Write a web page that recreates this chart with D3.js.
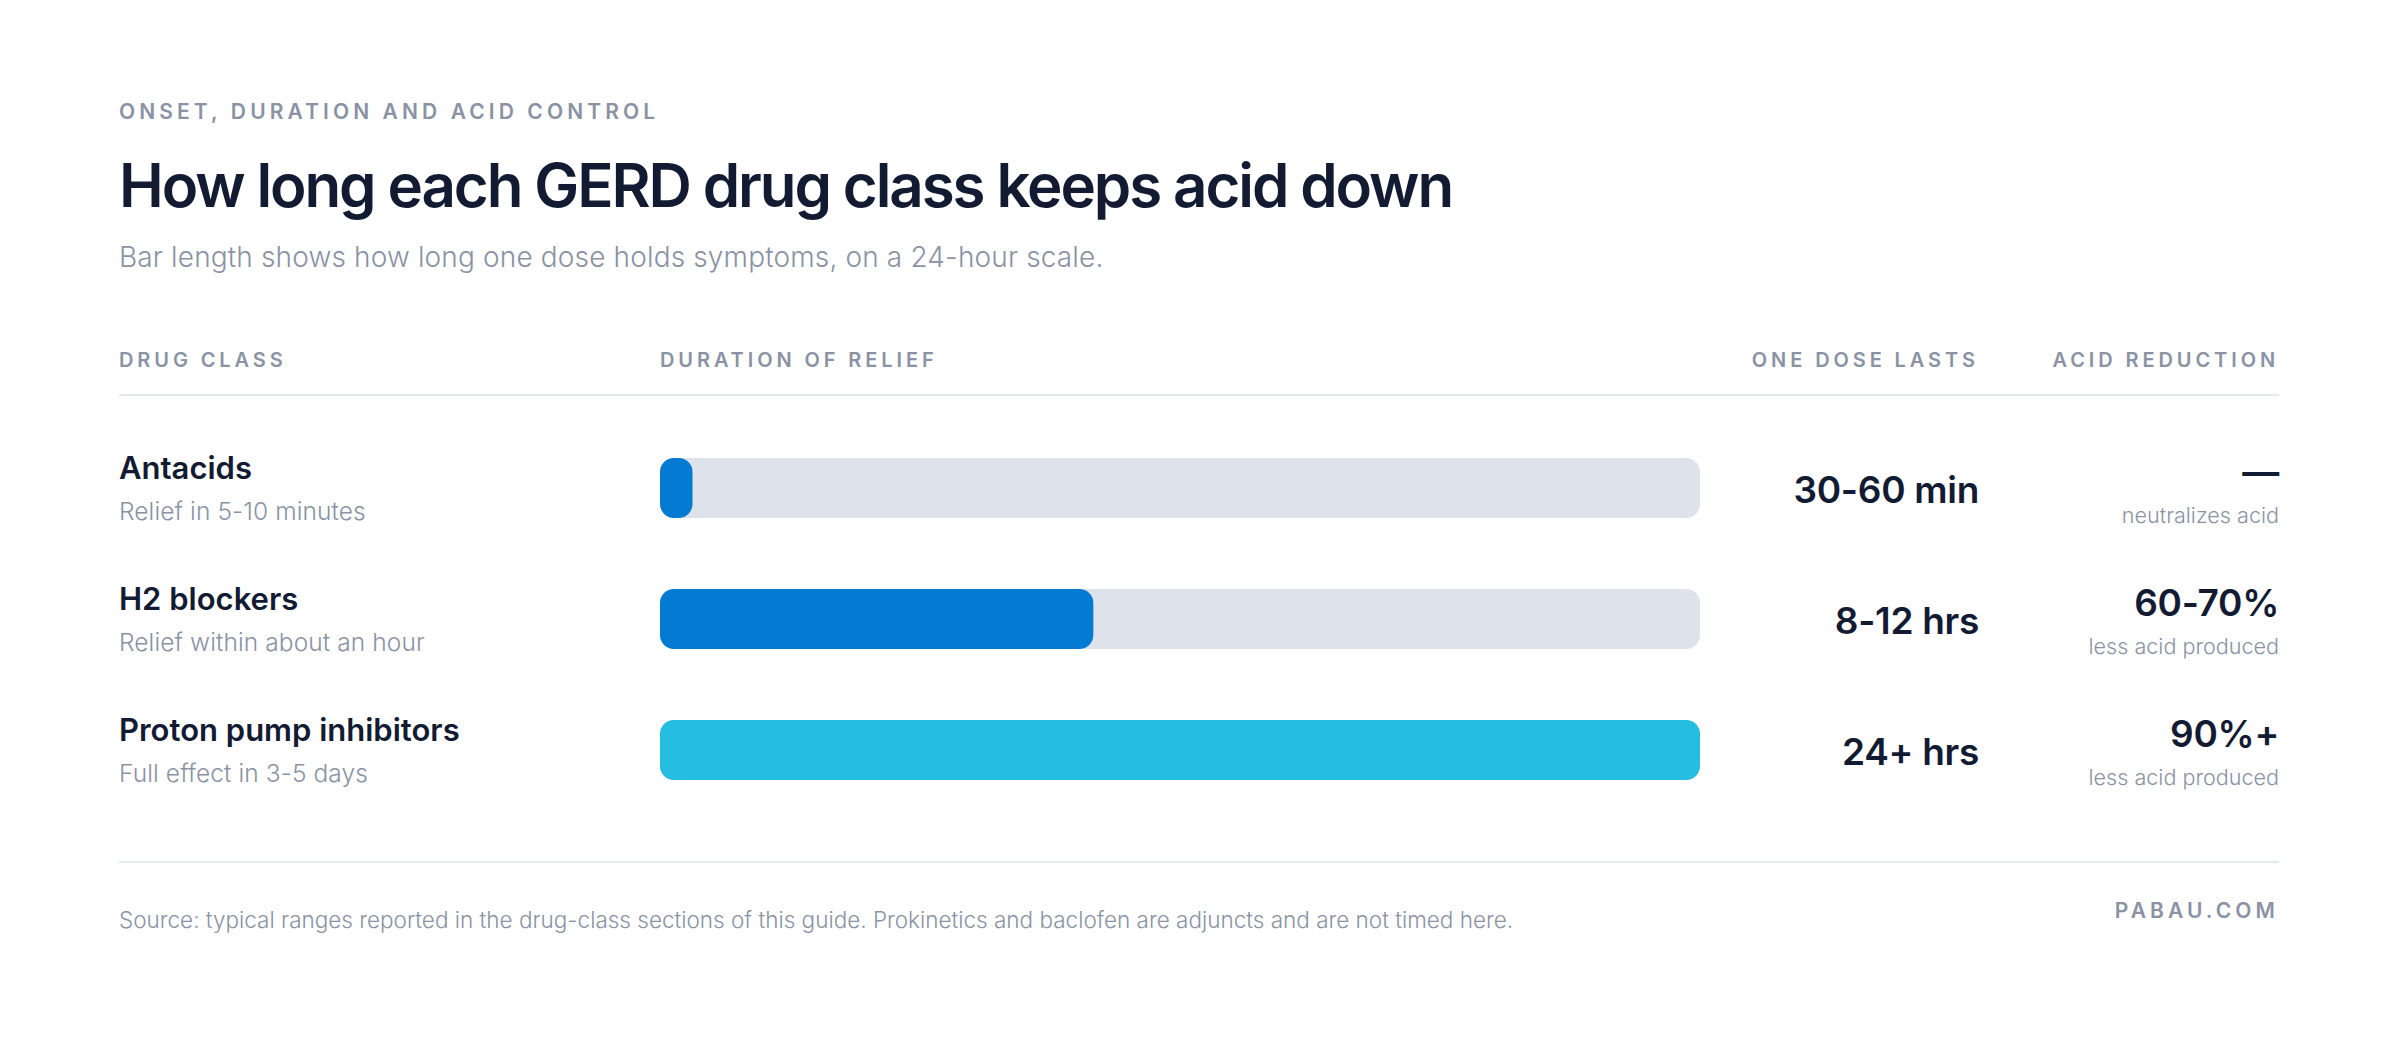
<!DOCTYPE html>
<html>
<head>
<meta charset="utf-8">
<script src="https://cdn.jsdelivr.net/npm/d3@7"></script>
<style>
  body { margin: 0; background: #fff; }
  svg { display: block; font-family: Inter, "Noto Sans", sans-serif; }
</style>
</head>
<body>
<div class="chart"></div>
<script>
const drugClasses = ['Antacids', 'H2 blockers', 'Proton pump inhibitors'];
const onsetNotes = ['Relief in 5-10 minutes', 'Relief within about an hour', 'Full effect in 3-5 days'];
const durationHours = [0.75, 10, 24];
const durationLabels = ['30-60 min', '8-12 hrs', '24+ hrs'];
const acidReduction = ['—', '60-70%', '90%+'];
const acidNotes = ['neutralizes acid', 'less acid produced', 'less acid produced'];
const scaleMax = 24;
const columnHeaders = ['DRUG CLASS', 'DURATION OF RELIEF', 'ONE DOSE LASTS', 'ACID REDUCTION'];

const createChart = () => {
  const { d3 } = window;
  const width = 2400;
  const height = 1050;
  const left = 119;
  const right = 2279;
  const navy = '#131b33';
  const grey = '#8a92a4';

  const rows = drugClasses.map((name, i) => ({
    name,
    onset: onsetNotes[i],
    hours: durationHours[i],
    lasts: durationLabels[i],
    acid: acidReduction[i],
    acidNote: acidNotes[i],
  }));

  const svg = d3.select('.chart')
    .append('svg')
    .attr('width', width)
    .attr('height', height);

  const x = d3.scaleLinear()
    .domain([0, scaleMax])
    .range([660, 1700]);

  const y = d3.scalePoint()
    .domain(drugClasses)
    .range([488, 750]);

  const color = d3.scaleOrdinal()
    .domain(drugClasses)
    .range(['#047bd2', '#047bd2', '#25bde0']);

  /* heading */

  svg.append('text')
    .attr('x', left)
    .attr('y', 119)
    .attr('fill', grey)
    .attr('font-size', 21)
    .attr('font-weight', 600)
    .attr('letter-spacing', 4.1)
    .text('ONSET, DURATION AND ACID CONTROL');

  svg.append('text')
    .attr('x', left)
    .attr('y', 207)
    .attr('fill', navy)
    .attr('font-size', 60)
    .attr('font-weight', 600)
    .attr('letter-spacing', -2.1)
    .text('How long each GERD drug class keeps acid down');

  svg.append('text')
    .attr('x', left)
    .attr('y', 267)
    .attr('fill', grey)
    .attr('font-size', 28)
    .attr('font-weight', 300)
    .attr('letter-spacing', 0.15)
    .text('Bar length shows how long one dose holds symptoms, on a 24-hour scale.');

  /* column headers */

  const headerX = [left, x(0), 1979, right];
  const headerAnchor = ['start', 'start', 'end', 'end'];

  svg.append('g')
    .selectAll('text')
    .data(columnHeaders)
    .enter().append('text')
    .attr('x', (d, i) => headerX[i])
    .attr('y', 367)
    .attr('text-anchor', (d, i) => headerAnchor[i])
    .attr('fill', grey)
    .attr('font-size', 20)
    .attr('font-weight', 600)
    .attr('letter-spacing', 3.9)
    .text(d => d);

  svg.append('line')
    .attr('x1', left)
    .attr('x2', right)
    .attr('y1', 395)
    .attr('y2', 395)
    .attr('stroke', '#e6e9f0')
    .attr('stroke-width', 2);

  /* rows */

  const row = svg.append('g')
    .selectAll('g')
    .data(rows)
    .enter().append('g')
    .attr('transform', d => `translate(0,${y(d.name)})`);

  row.append('text')
    .attr('x', left)
    .attr('y', -9)
    .attr('fill', navy)
    .attr('font-size', 31)
    .attr('font-weight', 600)
    .text(d => d.name);

  row.append('text')
    .attr('x', left)
    .attr('y', 32)
    .attr('fill', grey)
    .attr('font-size', 24.5)
    .attr('font-weight', 300)
    .attr('letter-spacing', 0.1)
    .text(d => d.onset);

  row.append('rect')
    .attr('x', x(0))
    .attr('y', -30)
    .attr('width', x(scaleMax) - x(0))
    .attr('height', 60)
    .attr('rx', 14)
    .attr('fill', '#dee2eb');

  row.append('rect')
    .attr('x', x(0))
    .attr('y', -30)
    .attr('width', d => x(d.hours) - x(0))
    .attr('height', 60)
    .attr('rx', 14)
    .attr('fill', d => color(d.name));

  row.append('text')
    .attr('x', 1979)
    .attr('y', 15)
    .attr('text-anchor', 'end')
    .attr('fill', navy)
    .attr('font-size', 37)
    .attr('font-weight', 600)
    .attr('letter-spacing', -0.3)
    .text(d => d.lasts);

  row.append('text')
    .attr('x', right)
    .attr('y', -3)
    .attr('text-anchor', 'end')
    .attr('fill', navy)
    .attr('font-size', 37)
    .attr('font-weight', 600)
    .attr('letter-spacing', -0.3)
    .text(d => d.acid);

  row.append('text')
    .attr('x', right)
    .attr('y', 35)
    .attr('text-anchor', 'end')
    .attr('fill', grey)
    .attr('font-size', 21.6)
    .attr('font-weight', 300)
    .text(d => d.acidNote);

  /* footer */

  svg.append('line')
    .attr('x1', left)
    .attr('x2', right)
    .attr('y1', 862)
    .attr('y2', 862)
    .attr('stroke', '#e6e9f0')
    .attr('stroke-width', 2);

  svg.append('text')
    .attr('x', left)
    .attr('y', 928)
    .attr('fill', grey)
    .attr('font-size', 22.5)
    .attr('font-weight', 300)
    .text('Source: typical ranges reported in the drug-class sections of this guide. Prokinetics and baclofen are adjuncts and are not timed here.');

  svg.append('text')
    .attr('x', right)
    .attr('y', 918)
    .attr('text-anchor', 'end')
    .attr('fill', grey)
    .attr('font-size', 21)
    .attr('font-weight', 600)
    .attr('letter-spacing', 4.1)
    .text('PABAU.COM');
};

createChart();
</script>
</body>
</html>
